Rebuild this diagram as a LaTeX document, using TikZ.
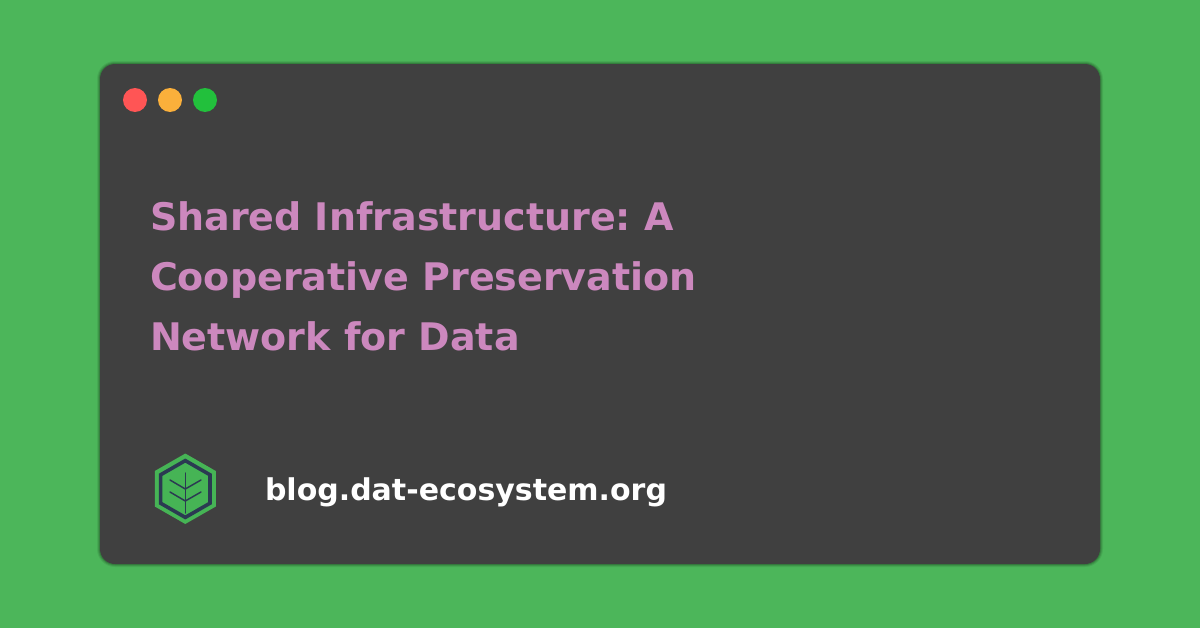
\documentclass[tikz,border=0pt]{standalone}
\usepackage{fontspec}
\setmainfont{DejaVu Sans}
\frenchspacing
\definecolor{bggreen}{HTML}{4CB65A}
\definecolor{card}{HTML}{404040}
\definecolor{titlepink}{HTML}{CC88BE}
\definecolor{dotred}{HTML}{FF5555}
\definecolor{dotyellow}{HTML}{FBB03B}
\definecolor{dotgreen}{HTML}{22C03C}
\definecolor{logoink}{HTML}{2B3A52}
\definecolor{logogreen}{HTML}{46B455}
\tikzset{
  x=0.75pt,y=-0.75pt,
  dotmark/.style={circle,minimum size=18pt,inner sep=0pt,outer sep=0pt},
  titleline/.style={anchor=base west,inner sep=0pt,outer sep=0pt,text=titlepink,font=\fontsize{28.5}{34}\selectfont\bfseries},
  urltext/.style={anchor=base west,inner sep=0pt,outer sep=0pt,text=white,font=\fontsize{22.5}{27}\selectfont\bfseries},
  hexink/.style={draw=logoink,line width=2.7pt,miter limit=10,fill=logogreen},
  leaf/.style={draw=logoink,line width=1.1pt,line cap=round}
}
\begin{document}
\begin{tikzpicture}
\useasboundingbox (0,0) rectangle (1200,628);
\fill[bggreen] (0,0) rectangle (1200,628);
% soft edge of the card
\foreach \g/\o in {3/0.10,2/0.16,1/0.24}{
  \fill[black!70!bggreen,opacity=\o,rounded corners=\the\numexpr 15+\g\relax*0.75pt]
    (100-\g,64-\g) rectangle (1100+\g,564+\g);
}
\fill[card,rounded corners=11.25pt] (100,64) rectangle (1100,564);
\node[dotmark,fill=dotred] (d1) at (135,100) {};
\node[dotmark,fill=dotyellow] (d2) at (170,100) {};
\node[dotmark,fill=dotgreen] (d3) at (205,100) {};
\node[titleline] (t1) at (150,230) {Shared Infrastructure: A};
\node[titleline] (t2) at (150,290) {Cooperative Preservation};
\node[titleline] (t3) at (150,350) {Network for Data};
\node[urltext] (u) at (265,500) {blog.dat-ecosystem.org};
% logo
\fill[logogreen] (185.3,453.5) -- (215.8,471) -- (215.8,506.5) -- (185.3,524) -- (154.8,506.5) -- (154.8,471) -- cycle;
\draw[hexink] (185.3,460.6) -- (210,474.8) -- (210,503.2) -- (185.3,517.4) -- (160.6,503.2) -- (160.6,474.8) -- cycle;
\draw[leaf] (185.3,473) -- (185.3,513);
\draw[leaf] (170,480) -- (185.3,489) -- (201,480);
\draw[leaf] (170,492) -- (185.3,501) -- (201,492);
\end{tikzpicture}
\end{document}
